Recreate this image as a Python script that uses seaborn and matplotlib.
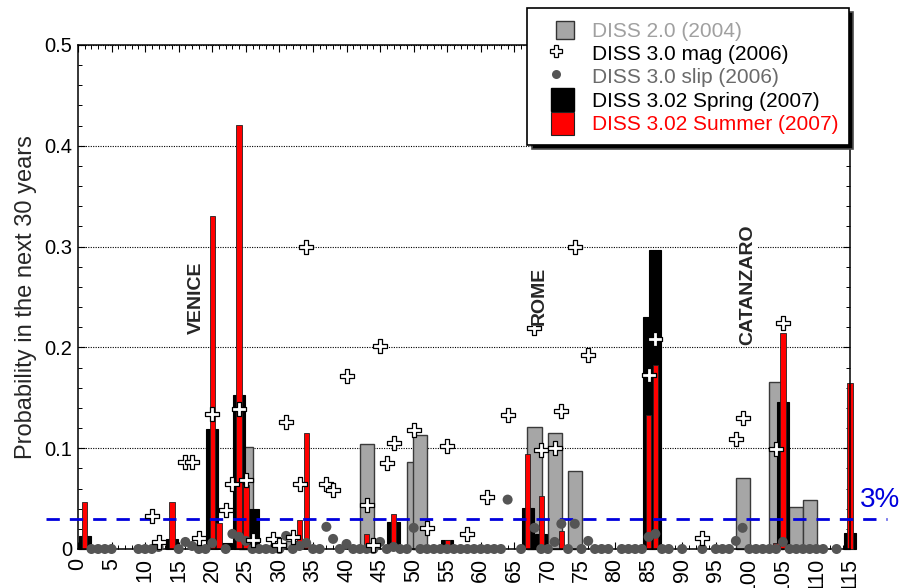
import numpy as np
import pandas as pd
import matplotlib
matplotlib.use("Agg")
import matplotlib.pyplot as plt
import seaborn as sns
from matplotlib.lines import Line2D
from matplotlib.patches import Patch, Rectangle
from matplotlib.legend_handler import HandlerPatch
from matplotlib.ticker import MultipleLocator

# ---------------- data ----------------
# DISS 2.0 (2004)  (grey wide bars)
diss20_x = [25, 32, 43, 50, 51, 68, 71, 74, 99, 104, 107, 109]
diss20_y = [0.101, 0.008, 0.104, 0.086, 0.113, 0.121, 0.115, 0.077, 0.070, 0.166, 0.042, 0.049]

# DISS 3.02 Spring (2007)  (black bars)
spring_x = [1, 14, 20, 22, 24, 26, 47, 55, 67, 69, 85, 86, 105, 115]
spring_y = [0.013, 0.010, 0.119, 0.006, 0.153, 0.040, 0.027, 0.009, 0.041, 0.015, 0.230, 0.297, 0.146, 0.016]

# DISS 3.02 Summer (2007)  (red bars)
summer_x = [1, 14, 20, 21, 24, 25, 33, 34, 43, 47, 55, 67, 69, 72, 85, 86, 104, 105, 115]
summer_y = [0.047, 0.047, 0.330, 0.026, 0.421, 0.063, 0.029, 0.115, 0.015, 0.035, 0.009,
            0.094, 0.053, 0.018, 0.133, 0.183, 0.006, 0.214, 0.165]

# DISS 3.0 mag (2006)  (white crosses)
mag_x = [11, 12, 16, 17, 18, 20, 22, 23, 24, 25, 26, 29, 30, 31, 32, 33, 34, 37, 38, 40,
         43, 44, 45, 46, 47, 50, 52, 55, 58, 61, 64, 68, 69, 71, 72, 74, 76, 85, 86, 93,
         98, 99, 104, 105]
mag_y = [0.033, 0.007, 0.086, 0.086, 0.011, 0.134, 0.039, 0.064, 0.139, 0.068, 0.009, 0.010,
         0.004, 0.126, 0.012, 0.064, 0.300, 0.064, 0.059, 0.172, 0.044, 0.004, 0.201, 0.085,
         0.105, 0.118, 0.021, 0.102, 0.015, 0.052, 0.133, 0.219, 0.098, 0.100, 0.137, 0.300,
         0.192, 0.173, 0.208, 0.011, 0.109, 0.130, 0.099, 0.224]

# DISS 3.0 slip (2006)  (grey dots)
slip_x = [2, 3, 4, 5, 9, 10, 11, 12, 15, 16, 17, 18, 19, 20, 22, 23, 24, 25, 26, 27, 28, 29,
          30, 31, 32, 33, 34, 35, 36, 37, 38, 39, 40, 41, 42, 43, 44, 45, 46, 47, 48, 49, 50,
          51, 52, 53, 54, 55, 56, 57, 58, 59, 60, 61, 62, 63, 64, 66, 68, 69, 70, 71, 72, 73,
          74, 75, 76, 77, 78, 79, 81, 82, 83, 84, 85, 86, 87, 88, 90, 93, 95, 96, 97, 98, 99,
          100, 101, 102, 103, 104, 105, 106, 107, 108, 109, 110, 111, 113]
slip_y = [0, 0, 0, 0, 0, 0, 0, 0.002, 0, 0.007, 0.003, 0, 0, 0.006, 0, 0.015, 0.012, 0.008,
          0, 0, 0, 0, 0, 0.013, 0, 0.003, 0.006, 0, 0, 0.022, 0.010, 0, 0.005, 0, 0, 0, 0,
          0.007, 0, 0.002, 0, 0, 0.021, 0, 0, 0, 0, 0, 0, 0, 0, 0, 0, 0, 0, 0, 0.049, 0,
          0.021, 0, 0, 0.007, 0.025, 0, 0.025, 0, 0.008, 0, 0, 0, 0, 0, 0, 0, 0.012, 0.015,
          0, 0, 0, 0, 0, 0, 0, 0.008, 0.021, 0, 0, 0, 0, 0, 0.007, 0, 0, 0, 0, 0, 0, 0]

labels = ["DISS 2.0 (2004)", "DISS 3.0 mag (2006)", "DISS 3.0 slip (2006)",
          "DISS 3.02 Spring (2007)", "DISS 3.02 Summer (2007)"]
label_colors = ["#a0a0a0", "black", "#6a6a6a", "black", "red"]

cities = ["VENICE", "ROME", "CATANZARO"]
city_x = [17.6, 68.7, 99.7]
city_y = [0.249, 0.251, 0.262]

threshold = 0.03
xticks = list(range(0, 116, 5))
yticks = [0, 0.1, 0.2, 0.3, 0.4, 0.5]
ytick_labels = ["0", "0.1", "0.2", "0.3", "0.4", "0.5"]

# ---------------- style ----------------
sns.set_theme(style="ticks")
plt.rcParams["font.family"] = ["Liberation Sans", "DejaVu Sans"]
plt.rcParams["axes.edgecolor"] = "black"
plt.rcParams["xtick.color"] = "black"
plt.rcParams["ytick.color"] = "black"

fig = plt.figure(figsize=(9.03, 5.88), dpi=100)
ax = fig.add_axes([78 / 903, 1 - 549 / 588, (850 - 78) / 903, (549 - 45) / 588])

GREY = "#a6a6a6"

df20 = pd.DataFrame({"x": diss20_x, "y": diss20_y})
dfsp = pd.DataFrame({"x": spring_x, "y": spring_y})
dfsu = pd.DataFrame({"x": summer_x, "y": summer_y})
dfmag = pd.DataFrame({"x": mag_x, "y": mag_y})
dfslip = pd.DataFrame({"x": slip_x, "y": slip_y})

sns.barplot(data=df20, x="x", y="y", native_scale=True, orient="x", width=2.1,
            color=GREY, saturation=1, edgecolor="#3a3a3a", linewidth=1.0,
            errorbar=None, ax=ax, zorder=2)
sns.barplot(data=dfsp, x="x", y="y", native_scale=True, orient="x", width=1.8,
            color="black", saturation=1, edgecolor="black", linewidth=0.8,
            errorbar=None, ax=ax, zorder=2.1)
sns.barplot(data=dfsu, x="x", y="y", native_scale=True, orient="x", width=0.8,
            color="#ff0000", saturation=1, edgecolor="#222222", linewidth=0.6,
            errorbar=None, ax=ax, zorder=2.2)
for p in ax.patches:
    p.set_clip_on(False)

# 3% line
ax.plot([-4.8, 120.5], [threshold, threshold], color="#0000dd", lw=2.0,
        dashes=(4.8, 3.6), clip_on=False, zorder=3)
ax.text(119.5, 0.049, "3%", color="#0000dd", fontsize=20, ha="center", va="center",
        clip_on=False)

sns.scatterplot(data=dfslip, x="x", y="y", ax=ax, color="#555555", s=52,
                edgecolor="none", linewidth=0, zorder=4, clip_on=False, legend=False)
sns.scatterplot(data=dfmag, x="x", y="y", ax=ax, marker="P", color="white", s=90,
                edgecolor="black", linewidth=0.9, zorder=5, clip_on=False, legend=False)

for name, cx, cy in zip(cities, city_x, city_y):
    ax.text(cx, cy, name, rotation=90, fontsize=14, fontweight="bold", ha="center",
            va="center", zorder=6,
            bbox=dict(facecolor="white", edgecolor="none", pad=0.5))

# axes
ax.set_xlim(0, 115)
ax.set_ylim(0, 0.5)
ax.set_xlabel("")
ax.set_ylabel("Probability in the next 30 years", fontsize=17, labelpad=5)
ax.set_xticks(xticks)
ax.set_xticklabels([str(t) for t in xticks], rotation=90, fontsize=15.5)
ax.xaxis.set_minor_locator(MultipleLocator(1))
ax.set_yticks(yticks)
ax.set_yticklabels(ytick_labels, fontsize=14.5)
ax.yaxis.set_minor_locator(MultipleLocator(0.02))
ax.tick_params(axis="both", which="both", direction="in", top=True, right=True,
               color="black")
ax.tick_params(axis="both", which="major", length=5, width=0.8)
ax.tick_params(axis="both", which="minor", length=3, width=0.7)
ax.tick_params(axis="x", which="major", pad=6.5)
ax.tick_params(axis="y", which="major", pad=4)
for s in ax.spines.values():
    s.set_linewidth(1.1)
    s.set_color("black")
    s.set_zorder(2.5)

ax.yaxis.grid(True, which="major", color="black", linewidth=0.8,
              linestyle=(0, (1, 1.2)))
ax.xaxis.grid(False)
ax.set_axisbelow(True)


# legend: square patches right-aligned in the handle box
def square_patch(scale):
    def f(legend, orig_handle, xdescent, ydescent, width, height, fontsize):
        side = scale * fontsize
        return Rectangle((-xdescent + width - side - 0.05 * fontsize,
                          -ydescent + (height - side) / 2), side, side)
    return f


h_grey = Patch(facecolor=GREY, edgecolor="#333333", linewidth=1.0)
h_mag = Line2D([], [], marker="P", ls="none", ms=8, mfc="white", mec="black", mew=0.9)
h_slip = Line2D([], [], marker="o", ls="none", ms=6.5, mfc="#555555", mec="none")
h_spring = Patch(facecolor="black", edgecolor="black")
h_summer = Patch(facecolor="#ff0000", edgecolor="#222222", linewidth=0.8)

leg = fig.legend([h_grey, h_mag, h_slip, h_spring, h_summer], labels, loc="upper right",
                 bbox_to_anchor=(849 / 903, 1 - 8 / 588), borderaxespad=0,
                 fontsize=15, labelcolor=label_colors, frameon=True, fancybox=False,
                 edgecolor="black", framealpha=1,
                 shadow={"ox": 3, "oy": -3, "facecolor": "black", "alpha": 1},
                 handlelength=1.78, handleheight=1.35, handletextpad=0.86,
                 labelspacing=0.0, borderpad=0.48,
                 handler_map={h_grey: HandlerPatch(patch_func=square_patch(0.85)),
                              h_spring: HandlerPatch(patch_func=square_patch(1.1)),
                              h_summer: HandlerPatch(patch_func=square_patch(1.1))})
leg.get_frame().set_linewidth(1.2)
leg.set_zorder(10)

fig.savefig("out.png", dpi=100)
